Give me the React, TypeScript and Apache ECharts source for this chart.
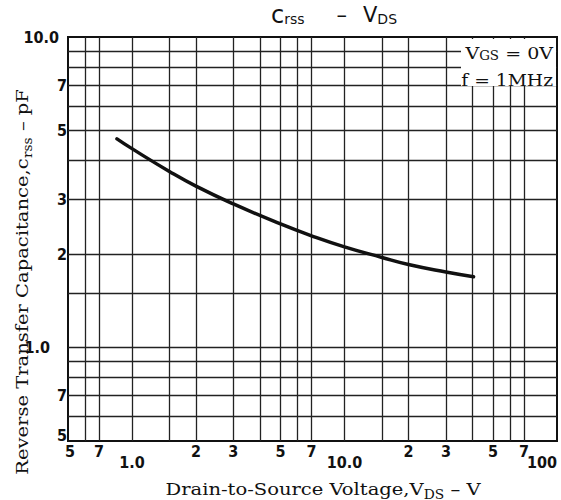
import React, { useEffect, useRef } from 'react';
import * as echarts from 'echarts';

// Curve: reverse transfer capacitance vs drain-to-source voltage
const vds = [0.85, 1.0, 1.5, 2, 3, 5, 7, 10, 15, 20, 30, 40.5];
const crss = [4.70, 4.37, 3.69, 3.31, 2.90, 2.50, 2.29, 2.11, 1.95, 1.85, 1.75, 1.69];

// Grid lines (log paper)
const xGridValues = [0.6, 0.7, 1, 1.5, 2, 3, 4, 5, 6, 7, 10, 15, 20, 30, 40, 50, 60, 70];
const yGridValues = [0.6, 0.7, 0.8, 0.9, 1, 1.5, 2, 3, 4, 5, 6, 7, 8, 9];

// Tick labels
const xTickValues = [0.5, 0.7, 1, 2, 3, 5, 7, 10, 20, 30, 50, 70, 100];
const xTickLabels = ['5', '7', '1.0', '2', '3', '5', '7', '10.0', '2', '3', '5', '7', '100'];
const yTickValues = [10, 7, 5, 3, 2, 1, 0.7, 0.5];
const yTickLabels = ['10.0', '7', '5', '3', '2', '1.0', '7', '5'];

const xMin = 0.5, xMax = 100, yMin = 0.5, yMax = 10;

const TICK_FONT = '"Liberation Sans Narrow", "DejaVu Sans Condensed", "DejaVu Sans", sans-serif';
const SERIF = '"DejaVu Serif", "Liberation Serif", serif';
const SANS = '"DejaVu Sans", "Liberation Sans", sans-serif';

export default function App() {
  const ref = useRef<HTMLDivElement>(null);
  useEffect(() => {
    if (!ref.current) return;
    const chart = echarts.init(ref.current, null, { renderer: 'svg' });
    const gridLineStyle = { color: '#222', width: 1.3, type: 'solid' as const };
    const option: any = {
      animation: false,
      backgroundColor: '#fff',
      grid: { left: 68, right: 4, top: 37, bottom: 59, show: true, borderColor: '#111', borderWidth: 2, backgroundColor: 'transparent' },
      xAxis: {
        type: 'log', logBase: 10, min: xMin, max: xMax,
        axisLabel: { show: false }, axisTick: { show: false }, axisLine: { show: false }, splitLine: { show: false },
      },
      yAxis: {
        type: 'log', logBase: 10, min: yMin, max: yMax,
        axisLabel: { show: false }, axisTick: { show: false }, axisLine: { show: false }, splitLine: { show: false },
      },
      series: [
        {
          type: 'line', data: vds.map((v, i) => [v, crss[i]]), showSymbol: false, symbol: 'none',
          lineStyle: { opacity: 0, width: 0 }, silent: true, z: 1,
          markLine: {
            silent: true, symbol: ['none', 'none'], label: { show: false }, lineStyle: gridLineStyle, animation: false,
            data: [
              ...xGridValues.map((v) => ({ xAxis: v })),
              ...yGridValues.map((v) => ({ yAxis: v })),
            ],
          },
        },
        {
          type: 'line', data: vds.map((v, i) => [v, crss[i]]), smooth: true, showSymbol: false, symbol: 'none',
          lineStyle: { color: '#111', width: 3.5, cap: 'round' }, z: 5,
        },
      ],
    };
    chart.setOption(option);

    const px = (v: number) => chart.convertToPixel({ xAxisIndex: 0 }, v) as number;
    const py = (v: number) => chart.convertToPixel({ yAxisIndex: 0 }, v) as number;
    const x0 = px(xMin), x1 = px(xMax), y0 = py(yMin), y1 = py(yMax);

    const graphics: any[] = [];
    xTickValues.forEach((v, i) => {
      const label = xTickLabels[i];
      const decade = label.length > 1;
      const last = i === xTickValues.length - 1;
      graphics.push({
        type: 'text', x: px(v) + (i === 0 ? 2 : 0), y: y0 + (decade ? 21 : 10), z: 100,
        style: {
          text: label, fill: '#111', fontSize: 16, fontWeight: 'bold', fontFamily: TICK_FONT,
          align: last ? 'right' : 'center', textAlign: last ? 'right' : 'center',
          verticalAlign: 'middle', textVerticalAlign: 'middle',
        },
      });
    });
    yTickValues.forEach((v, i) => {
      const label = yTickLabels[i];
      const dx = label === '10.0' ? -9 : label === '1.0' ? -18 : -1;
      const dy = v === yMin ? -6 : 0;
      graphics.push({
        type: 'text', x: x0 + dx, y: py(v) + dy, z: 100,
        style: {
          text: label, fill: '#111', fontSize: 16, fontWeight: 'bold', fontFamily: TICK_FONT,
          align: 'right', textAlign: 'right', verticalAlign: 'middle', textVerticalAlign: 'middle',
        },
      });
    });

    // legend box (conditions)
    graphics.push({
      type: 'rect', z: 90, shape: { x: x1 - 96, y: y1 + 2, width: 95, height: 47 },
      style: { fill: '#fff', stroke: 'none' },
    });
    graphics.push({
      type: 'text', x: x1 - 4, y: y1 + 16, z: 100, scaleX: 1.12,
      style: {
        text: 'V{s|GS} = 0V', fill: '#111', fontSize: 17, fontFamily: SERIF,
        align: 'right', textAlign: 'right', verticalAlign: 'middle', textVerticalAlign: 'middle',
        rich: { s: { fontSize: 12, fontFamily: SERIF, verticalAlign: 'bottom', lineHeight: 12 } },
      },
    });
    graphics.push({
      type: 'text', x: x1 - 4, y: y1 + 43, z: 100, scaleX: 1.1,
      style: {
        text: 'f = 1MHz', fill: '#111', fontSize: 17, fontFamily: SERIF,
        align: 'right', textAlign: 'right', verticalAlign: 'middle', textVerticalAlign: 'middle',
      },
    });

    // title
    graphics.push({
      type: 'text', x: 334, y: 15, z: 100,
      style: {
        text: '{c|c}{s|rss}{g1|}{m|–}{g2|}{m|V}{s|DS}', fill: '#111', fontFamily: SANS,
        align: 'center', textAlign: 'center', verticalAlign: 'middle', textVerticalAlign: 'middle',
        rich: {
          c: { fontSize: 24, fontFamily: SANS, lineHeight: 22 },
          m: { fontSize: 21, fontFamily: SANS, lineHeight: 22 },
          s: { fontSize: 14, fontFamily: SANS, lineHeight: 14, verticalAlign: 'bottom' },
          g1: { width: 32 },
          g2: { width: 16 },
        },
      },
    });

    // axis titles
    const subRich = { s: { fontSize: 12, fontFamily: SERIF, lineHeight: 23, verticalAlign: 'bottom' } };
    graphics.push({
      type: 'text', x: 323, y: 489, z: 100, scaleX: 1.15,
      style: {
        text: 'Drain-to-Source Voltage,V{s|DS} – V', fill: '#111', fontSize: 17, fontFamily: SERIF,
        align: 'center', textAlign: 'center', verticalAlign: 'middle', textVerticalAlign: 'middle',
        rich: subRich,
      },
    });
    graphics.push({
      type: 'text', x: 22, y: 282, rotation: Math.PI / 2, z: 100, scaleX: 1.15,
      style: {
        text: 'Reverse Transfer Capacitance,c{s|rss} – pF', fill: '#111', fontSize: 17, fontFamily: SERIF,
        align: 'center', textAlign: 'center', verticalAlign: 'middle', textVerticalAlign: 'middle',
        rich: subRich,
      },
    });

    chart.setOption({ graphic: { elements: graphics } });
    return () => chart.dispose();
  }, []);
  return <div ref={ref} style={{ position: 'absolute', left: 0, top: 0, width: 561, height: 500, background: '#fff' }} />;
}
